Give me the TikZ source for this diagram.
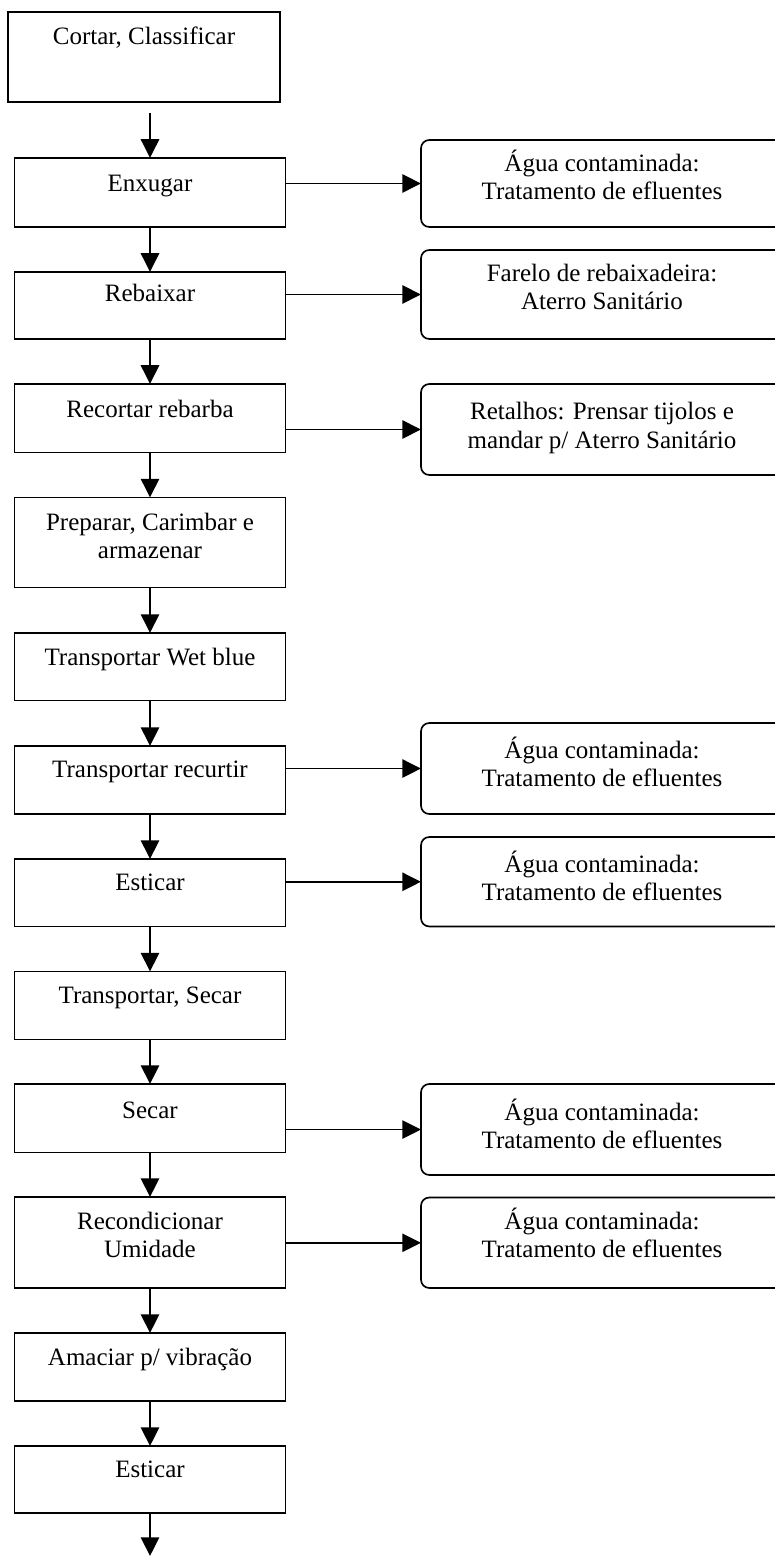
\documentclass[tikz,border=0pt]{standalone}
\usepackage{fontspec}
\setmainfont{Liberation Serif}
\usetikzlibrary{arrows.meta}

% one drawing unit
\newlength\pxu
\setlength\pxu{0.48pt}

% text block of a box: width, height, first baseline from the top
\newcommand\boxtxt[4][31]{%
  \parbox[c][#3\pxu][t]{#2\pxu}{\centering\rule{0pt}{#1\pxu}#4\par}}

\begin{document}
\begin{tikzpicture}[x=\pxu, y=-\pxu,
    every node/.style={inner sep=0pt, outer sep=0pt,
      font=\fontsize{12}{13.44}\selectfont},
    stepbox/.style={draw, line width=0.8pt, rectangle},
    wastebox/.style={draw, line width=0.8pt, rectangle, rounded corners=4pt},
    flow/.style={line width=0.8pt, -{Triangle[length=9pt, width=8.8pt]}}]

\useasboundingbox (0,0) rectangle (774,1556);

% main process column
\node[stepbox] (n1)  at (144,57)      {\boxtxt[33]{272}{90}{Cortar, Classificar}};
\node[stepbox] (n2)  at (150,192.5)   {\boxtxt[34]{271}{69}{Enxugar}};
\node[stepbox] (n3)  at (150,305.5)   {\boxtxt[30]{271}{67}{Rebaixar}};
\node[stepbox] (n4)  at (150,418.25)  {\boxtxt[33]{271}{68.5}{Recortar rebarba}};
\node[stepbox] (n5)  at (150,542.5)   {\boxtxt[32.5]{271}{90}{Preparar, Carimbar e\\armazenar}};
\node[stepbox] (n6)  at (150,666.75)  {\boxtxt[32]{271}{67.5}{Transportar Wet blue}};
\node[stepbox] (n7)  at (150,780)     {\boxtxt[31]{271}{68}{Transportar recurtir}};
\node[stepbox] (n8)  at (150,892.75)  {\boxtxt[31]{271}{67.5}{Esticar}};
\node[stepbox] (n9)  at (150,1005.5)  {\boxtxt[32]{271}{68}{Transportar, Secar}};
\node[stepbox] (n10) at (150,1118.25) {\boxtxt[34]{271}{68.5}{Secar}};
\node[stepbox] (n11) at (150,1242.5)  {\boxtxt[32.5]{271}{91}{Recondicionar\\Umidade}};
\node[stepbox] (n12) at (150,1367)    {\boxtxt[32]{271}{68}{Amaciar p/ vibração}};
\node[stepbox] (n13) at (150,1479.5)  {\boxtxt[31]{271}{67}{Esticar}};

% by-products column
\node[wastebox] (rA) at (602,183.5)  {\boxtxt[32]{362}{87}{Água contaminada:\\Tratamento de efluentes}};
\node[wastebox] (rB) at (602,294.5)  {\boxtxt[32]{362}{89}{Farelo de rebaixadeira:\\Aterro Sanitário}};
\node[wastebox] (rC) at (602,429.5)  {\boxtxt[36]{362}{91}{Retalhos: Prensar tijolos e\\mandar p/ Aterro Sanitário}};
\node[wastebox] (rD) at (602,768.5)  {\boxtxt[35.5]{362}{91}{Água contaminada:\\Tratamento de efluentes}};
\node[wastebox] (rE) at (602,881.75) {\boxtxt[35]{362}{89.5}{Água contaminada:\\Tratamento de efluentes}};
\node[wastebox] (rF) at (602,1129.5) {\boxtxt[36]{362}{91}{Água contaminada:\\Tratamento de efluentes}};
\node[wastebox] (rG) at (602,1242.75){\boxtxt[32]{362}{90.5}{Água contaminada:\\Tratamento de efluentes}};

% free ends of the column
\coordinate (start) at (150,113);
\coordinate (finish) at (150,1556);

% downward flow
\draw[flow] (start) -- (n2.north);
\foreach \a/\b in {n2/n3, n3/n4, n4/n5, n5/n6, n6/n7, n7/n8, n8/n9,
                   n9/n10, n10/n11, n11/n12, n12/n13}
  \draw[flow] (\a.south) -- (\b.north);
\draw[flow] (n13.south) -- (finish);

% side outputs
\foreach \a/\b in {n2/rA, n3/rB, n4/rC, n7/rD, n8/rE, n10/rF, n11/rG}
  \draw[flow] (\a.east |- \b.west) -- (\b.west);
\end{tikzpicture}
\end{document}
